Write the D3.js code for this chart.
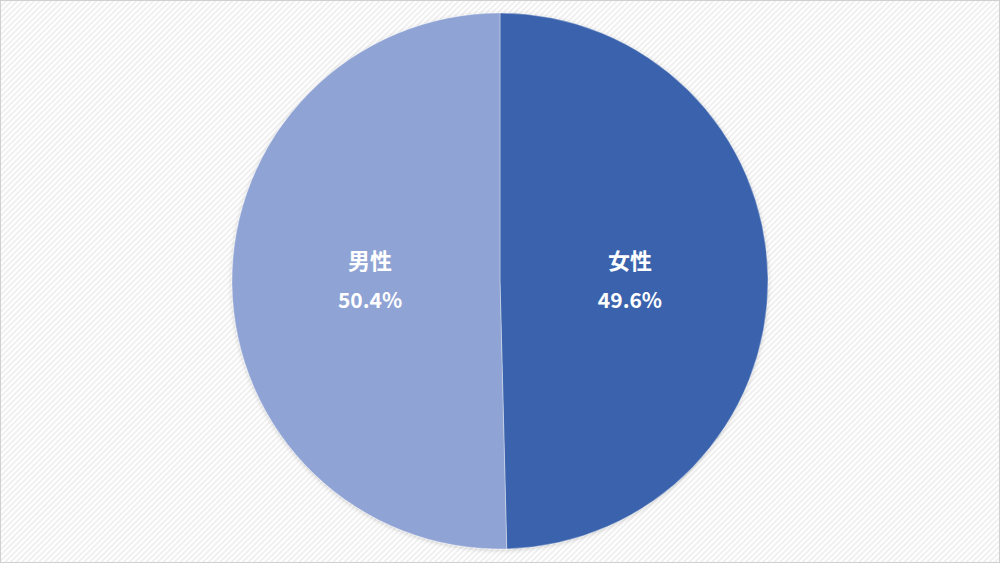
<!DOCTYPE html>
<html><head><meta charset="utf-8">
<script src="https://cdn.jsdelivr.net/npm/d3@7"></script>
<style>html,body{margin:0;padding:0;background:#fff;}svg{display:block;}</style>
</head><body>
<svg id="c" width="1000" height="563"></svg>
<script>
const categories = ["女性", "男性"];
const values = [49.6, 50.4];
const labels = ["49.6%", "50.4%"];
const colors = ["#3B64AD", "#8FA3D4"];

const svg = d3.select("#c");
const W = 1000, H = 563;
const defs = svg.append("defs");
const pat = defs.append("pattern").attr("id","stripes").attr("patternUnits","userSpaceOnUse")
  .attr("width",4).attr("height",4).attr("patternTransform","rotate(45)");
pat.append("rect").attr("width",4).attr("height",4).attr("fill","#ffffff");
pat.append("rect").attr("width",2).attr("height",4).attr("fill","#f0f0f0");
const sh = defs.append("filter").attr("id","sh").attr("x","-10%").attr("y","-10%").attr("width","120%").attr("height","120%");
sh.append("feDropShadow").attr("dx",0).attr("dy",1).attr("stdDeviation",2).attr("flood-color","#000").attr("flood-opacity",0.18);

svg.append("rect").attr("x",0.5).attr("y",0.5).attr("width",W-1).attr("height",H-1)
  .attr("fill","url(#stripes)").attr("stroke","#d0d0d0").attr("stroke-width",1);

const cx = 500, cy = 281, r = 268;
const pie = d3.pie().sort(null).value(d => d);
const arcs = pie(values);
const arc = d3.arc().innerRadius(0).outerRadius(r);
const g = svg.append("g").attr("transform", `translate(${cx},${cy})`);
g.append("g").attr("filter","url(#sh)").selectAll("path").data(arcs).join("path")
  .attr("d", arc).attr("fill", (d,i) => colors[i])
  .attr("stroke", "#ffffff").attr("stroke-opacity",0.35).attr("stroke-width", 1);

const lab = g.selectAll("g.lab").data(arcs).join("g").attr("class","lab")
  .attr("transform", d => { const c = arc.centroid(d); return `translate(${c[0]*0.97},0)`; });
lab.append("text").attr("text-anchor","middle").attr("y",-22).attr("dominant-baseline","central")
  .attr("font-family","'Noto Sans CJK JP', 'Noto Sans', sans-serif").attr("font-weight","bold")
  .attr("font-size",22).attr("fill","#fff").text((d,i)=>categories[i]);
lab.append("text").attr("text-anchor","middle").attr("y",18).attr("dominant-baseline","central")
  .attr("font-family","'Noto Sans CJK JP', 'Noto Sans', sans-serif").attr("font-weight","bold")
  .attr("font-size",21).attr("fill","#fff").text((d,i)=>labels[i]);
</script>
</body></html>
